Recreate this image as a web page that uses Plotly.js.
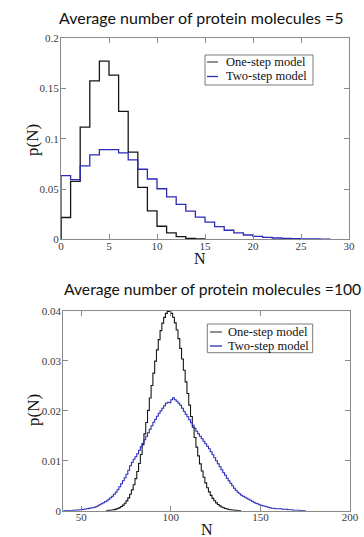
<!DOCTYPE html>
<html>
<head>
<meta charset="utf-8">
<script src="https://cdn.plot.ly/plotly-3.0.1.min.js"></script>
<style>html,body{margin:0;padding:0;background:#fff;}#chart{width:364px;height:537px;}</style>
</head>
<body>
<div id="chart"></div>
<script>
// ---- Data ----
// Panel 1: average number of protein molecules = 5 ; bins [N, N+1)
var binStart5 = 0;
var oneStep5 = [0.0217, 0.0577, 0.1117, 0.1577, 0.1773, 0.1633, 0.1273, 0.0867, 0.0517, 0.0283,
                0.0130, 0.0063, 0.0027, 0.0010, 0.0003];
var twoStep5 = [0.0633, 0.0593, 0.0730, 0.0840, 0.0893, 0.0893, 0.0860, 0.0790, 0.0697, 0.0600,
                0.0503, 0.0423, 0.0347, 0.0280, 0.0220, 0.0170, 0.0127, 0.0090, 0.0063, 0.0043,
                0.0030, 0.0020, 0.0013, 0.0010, 0.0007, 0.0005, 0.0003, 0.0002];

// Panel 2: average number of protein molecules = 100
var oneStepStart100 = 64;
var oneStep100 = [0.00004, 0.00007, 0.00010, 0.00015, 0.00022, 0.00031, 0.00044, 0.00061, 0.00083, 0.00112,
                  0.00150, 0.00197, 0.00256, 0.00329, 0.00416, 0.00520, 0.00642, 0.00783, 0.00943, 0.01123,
                  0.01321, 0.01536, 0.01765, 0.02006, 0.02254, 0.02504, 0.02752, 0.02991, 0.03216, 0.03421,
                  0.03601, 0.03751, 0.03867, 0.03946, 0.03986, 0.03986, 0.03947, 0.03870, 0.03757, 0.03613,
                  0.03441, 0.03246, 0.03034, 0.02809, 0.02577, 0.02343, 0.02111, 0.01885, 0.01668, 0.01463,
                  0.01272, 0.01097, 0.00937, 0.00794, 0.00668, 0.00556, 0.00460, 0.00377, 0.00306, 0.00247,
                  0.00198, 0.00157, 0.00124, 0.00097, 0.00075, 0.00058, 0.00044, 0.00033, 0.00025, 0.00019,
                  0.00014, 0.00010, 0.00007, 0.00005, 0.00003];
var twoStepStart100 = 40;
var twoStep100 = [0.00001, 0.00002, 0.00002, 0.00003, 0.00004, 0.00006, 0.00008, 0.00011, 0.00015, 0.00020,
                  0.00025, 0.00030, 0.00035, 0.00040, 0.00046, 0.00053, 0.00060, 0.00070, 0.00080, 0.00100,
                  0.00120, 0.00140, 0.00160, 0.00180, 0.00200, 0.00230, 0.00260, 0.00290, 0.00330, 0.00370,
                  0.00420, 0.00480, 0.00540, 0.00600, 0.00660, 0.00730, 0.00810, 0.00900, 0.00970, 0.01030,
                  0.01080, 0.01140, 0.01210, 0.01280, 0.01350, 0.01420, 0.01490, 0.01560, 0.01630, 0.01700,
                  0.01770, 0.01830, 0.01890, 0.01950, 0.02000, 0.02050, 0.02100, 0.02150, 0.02170, 0.02160,
                  0.02220, 0.02260, 0.02220, 0.02190, 0.02150, 0.02110, 0.02050, 0.01990, 0.01930, 0.01880,
                  0.01820, 0.01760, 0.01710, 0.01650, 0.01590, 0.01540, 0.01490, 0.01440, 0.01390, 0.01340,
                  0.01290, 0.01240, 0.01180, 0.01120, 0.01060, 0.01000, 0.00940, 0.00880, 0.00820, 0.00760,
                  0.00710, 0.00650, 0.00600, 0.00550, 0.00500, 0.00450, 0.00410, 0.00370, 0.00340, 0.00310,
                  0.00290, 0.00270, 0.00250, 0.00230, 0.00210, 0.00190, 0.00170, 0.00150, 0.00140, 0.00120,
                  0.00110, 0.00100, 0.00090, 0.00080, 0.00070, 0.00060, 0.00050, 0.00050, 0.00040, 0.00040,
                  0.00040, 0.00040, 0.00030, 0.00030, 0.00030, 0.00020, 0.00020, 0.00020, 0.00010, 0.00010,
                  0.00010, 0.00010, 0.00005, 0.00005, 0.00003];

var seriesNames = ['One-step model', 'Two-step model'];
var titles = ['Average number of protein molecules =5', 'Average number of protein molecules =100'];
var xTicks5 = [0, 5, 10, 15, 20, 25, 30];
var yTicks5 = [0, 0.05, 0.1, 0.15, 0.2];
var xTicks100 = [50, 100, 150, 200];
var yTicks100 = [0, 0.01, 0.02, 0.03, 0.04];

// ---- helpers ----
function stepXY(start, vals) {
  // histogram outline: vertical rise at first edge, steps, drop after last bin
  var x = [start], y = [0];
  for (var i = 0; i < vals.length; i++) { x.push(start + i); y.push(vals[i]); }
  x.push(start + vals.length); y.push(0);
  return {x: x, y: y};
}
var W = 364, H = 537;
function px(v) { return v / W; }
function py(v) { return 1 - v / H; }

var BLACK = '#161616', BLUE = '#2b2bb8';
var a = stepXY(binStart5, oneStep5), b = stepXY(binStart5, twoStep5);
var c = stepXY(oneStepStart100, oneStep100), d = stepXY(twoStepStart100, twoStep100);

var traces = [
  {x: a.x, y: a.y, xaxis: 'x', yaxis: 'y', mode: 'lines', line: {shape: 'hv', color: BLACK, width: 1.3}, name: seriesNames[0], showlegend: false},
  {x: b.x, y: b.y, xaxis: 'x', yaxis: 'y', mode: 'lines', line: {shape: 'hv', color: BLUE, width: 1.3}, name: seriesNames[1], showlegend: false},
  {x: c.x, y: c.y, xaxis: 'x2', yaxis: 'y2', mode: 'lines', line: {shape: 'hv', color: BLACK, width: 1.1}, name: seriesNames[0], showlegend: false},
  {x: d.x, y: d.y, xaxis: 'x2', yaxis: 'y2', mode: 'lines', line: {shape: 'hv', color: BLUE, width: 1.1}, name: seriesNames[1], showlegend: false}
];

var tickFont = {family: 'Liberation Serif, Times New Roman, serif', size: 11, color: '#3a3a3a'};
function axis(extra) {
  var base = {showline: true, mirror: 'ticks', linecolor: '#8a8a8a', linewidth: 1,
              ticks: 'inside', ticklen: 5, tickcolor: '#8a8a8a', tickwidth: 1,
              showgrid: false, zeroline: false, tickfont: tickFont, fixedrange: true};
  for (var k in extra) base[k] = extra[k];
  return base;
}

var layout = {
  width: W, height: H,
  margin: {l: 0, r: 0, t: 0, b: 0},
  paper_bgcolor: '#fff', plot_bgcolor: '#fff',
  showlegend: false,
  xaxis: axis({domain: [px(61), px(349)], range: [0, 30], tickvals: xTicks5, ticktext: xTicks5.map(String), anchor: 'y', ticklabelstandoff: -4}),
  yaxis: axis({domain: [py(239.3), py(38.3)], range: [0, 0.2], tickvals: yTicks5, ticktext: ['0', '0.05', '0.1', '0.15', '0.2'], anchor: 'x', ticklabelstandoff: -1}),
  xaxis2: axis({domain: [px(63.3), px(350)], range: [40, 200], tickvals: xTicks100, ticktext: xTicks100.map(String), anchor: 'y2', ticklabelstandoff: -4}),
  yaxis2: axis({domain: [py(510.7), py(310.7)], range: [0, 0.04], tickvals: yTicks100, ticktext: ['0', '0.01', '0.02', '0.03', '0.04'], anchor: 'x2', ticklabelstandoff: -1}),
  annotations: [],
  shapes: []
};

var titleFont = {family: 'Lato, Open Sans, sans-serif', size: 16, color: '#111'};
var serif = 'Liberation Serif, Times New Roman, serif';
layout.annotations.push({xref: 'paper', yref: 'paper', x: px(201), y: py(17), text: titles[0], showarrow: false, font: titleFont, xanchor: 'center', yanchor: 'middle'});
layout.annotations.push({xref: 'paper', yref: 'paper', x: px(212.5), y: py(289), text: titles[1], showarrow: false, font: {family: titleFont.family, size: 15.7, color: '#111'}, xanchor: 'center', yanchor: 'middle'});
// axis titles
layout.annotations.push({xref: 'paper', yref: 'paper', x: px(33), y: py(140), text: 'p(N)', textangle: -90, showarrow: false, font: {family: serif, size: 17, color: '#111'}, xanchor: 'center', yanchor: 'middle'});
layout.annotations.push({xref: 'paper', yref: 'paper', x: px(200), y: py(258), text: 'N', showarrow: false, font: {family: serif, size: 16, color: '#111'}, xanchor: 'center', yanchor: 'middle'});
layout.annotations.push({xref: 'paper', yref: 'paper', x: px(33), y: py(410), text: 'p(N)', textangle: -90, showarrow: false, font: {family: serif, size: 17, color: '#111'}, xanchor: 'center', yanchor: 'middle'});
layout.annotations.push({xref: 'paper', yref: 'paper', x: px(207), y: py(529), text: 'N', showarrow: false, font: {family: serif, size: 16, color: '#111'}, xanchor: 'center', yanchor: 'middle'});

// custom legends
function legend(x0, y0, x1, y1, rows, lineX0, lineX1, textX) {
  layout.shapes.push({type: 'rect', xref: 'paper', yref: 'paper', x0: px(x0), x1: px(x1), y0: py(y1), y1: py(y0), line: {color: '#7a7a7a', width: 1}, fillcolor: '#fff'});
  var colors = [BLACK, BLUE];
  for (var i = 0; i < rows.length; i++) {
    layout.shapes.push({type: 'line', xref: 'paper', yref: 'paper', x0: px(lineX0), x1: px(lineX1), y0: py(rows[i]), y1: py(rows[i]), line: {color: i === 0 ? '#555' : colors[i], width: 1.3}});
    layout.annotations.push({xref: 'paper', yref: 'paper', x: px(textX), y: py(rows[i]), text: seriesNames[i], showarrow: false, xanchor: 'left', yanchor: 'middle', font: {family: serif, size: 12.5, color: '#111'}});
  }
}
legend(205, 55, 313, 85, [62, 76.5], 207, 218, 224);
legend(207.3, 324, 312.7, 352.7, [332, 346], 210, 222, 226);

Plotly.newPlot('chart', traces, layout, {displayModeBar: false, staticPlot: true});
</script>
</body>
</html>
